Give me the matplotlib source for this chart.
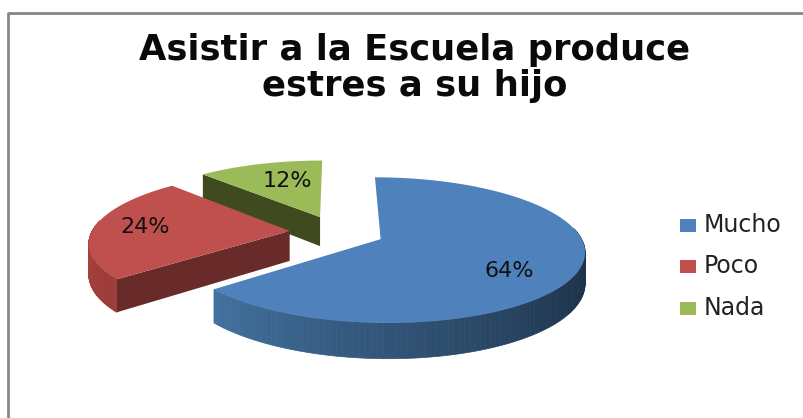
import numpy as np
import matplotlib
matplotlib.use('Agg')
import matplotlib.pyplot as plt
from matplotlib.patches import Rectangle

categories = ['Mucho', 'Poco', 'Nada']
shares = [64, 24, 12]
top_colors = ['#4f81bd', '#c0504d', '#9bbb59']
face_colors = ['#1f3650', '#692b2a', '#3f4a1e']
# rim shade from the start of the rim to its end, one list per slice
rim_shades = [['#223c59', '#223c59', '#1d324b', '#2f5071', '#43719f'],
              ['#9c3b38', '#b04a47'],
              ['#3f4a1e', '#3f4a1e']]
label_xy = [(509, 271), (145, 227), (287, 181)]
legend_y = [225, 266, 308]

# pie geometry, in pixels of the figure
cx, cy = 337, 232
rx, ry = 198, 69
depth = 30
persp = 0.148
explode = 0.24


def project(u, v, z=0.0):
    w = 1 + persp * v
    return cx + rx * u / w, cy - ry * v / w + depth * z / w


def hex_mix(shades, t):
    rgb = np.array([matplotlib.colors.to_rgb(s) for s in shades])
    pos = np.linspace(0, 1, len(shades))
    return [np.interp(t, pos, rgb[:, i]) for i in range(3)]


fig = plt.figure(figsize=(8.04, 4.18), dpi=100)
ax = fig.add_axes([0, 0, 1, 1])
ax.set_xlim(0, 804)
ax.set_ylim(418, 0)
ax.axis('off')

# chart frame runs off the bottom and right of the canvas
ax.plot([8.5, 8.5, 804], [418, 12.5, 12.5], color='#878787', lw=2)

ax.text(415, 68, 'Asistir a la Escuela produce\nestres a su hijo', ha='center', va='center',
        fontsize=25.5, fontweight='bold', family='DejaVu Sans', color='#0a0a0a', linespacing=1.1)

# slice angles run clockwise from twelve o'clock
edges = np.radians(np.cumsum([0] + shares) * 3.6)

# back to front: green, red, blue
for i in [2, 1, 0]:
    a0, a1 = edges[i], edges[i + 1]
    mid = (a0 + a1) / 2
    ou, ov = explode * np.sin(mid), explode * np.cos(mid)
    angles = np.linspace(a0, a1, 160)
    rim_u = ou + np.sin(angles)
    rim_v = ov + np.cos(angles)

    # outer rim as thin strips, only the part facing the viewer
    for j in range(len(angles) - 1):
        if np.cos((angles[j] + angles[j + 1]) / 2) > 0.15:
            continue
        uu = [rim_u[j], rim_u[j + 1], rim_u[j + 1], rim_u[j]]
        vv = [rim_v[j], rim_v[j + 1], rim_v[j + 1], rim_v[j]]
        zz = [0, 0, 1, 1]
        xs, ys = project(np.array(uu), np.array(vv), np.array(zz))
        col = hex_mix(rim_shades[i], j / (len(angles) - 2))
        ax.fill(xs, ys, color=col, lw=0.5)

    # radial wall that closes the slice at its far edge
    if i > 0:
        uu = np.array([ou, ou + np.sin(a0), ou + np.sin(a0), ou])
        vv = np.array([ov, ov + np.cos(a0), ov + np.cos(a0), ov])
        xs, ys = project(uu, vv, np.array([0, 0, 1, 1]))
        ax.fill(xs, ys, color=face_colors[i], lw=0)

    # top surface
    xs, ys = project(np.r_[ou, rim_u], np.r_[ov, rim_v])
    ax.fill(xs, ys, color=top_colors[i], lw=0)

for share, (x, y) in zip(shares, label_xy):
    ax.text(x, y, f'{share}%', ha='center', va='center', fontsize=16, family='DejaVu Sans', color='#111111')

for name, col, y in zip(categories, top_colors, legend_y):
    ax.add_patch(Rectangle((680, y - 6.5), 16, 13, color=col, lw=0))
    ax.text(704, y, name, ha='left', va='center', fontsize=17, family='DejaVu Sans', color='#222222')

fig.savefig('out.png', dpi=100)
